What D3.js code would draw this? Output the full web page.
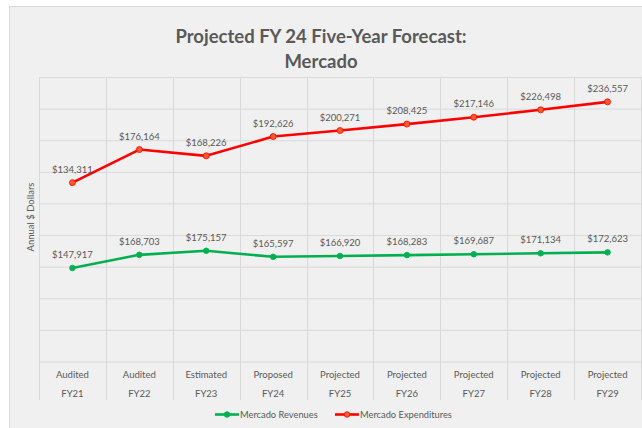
<!DOCTYPE html>
<html>
<head>
<meta charset="utf-8">
<script src="https://cdn.jsdelivr.net/npm/d3@7"></script>
<style>
  html, body { margin: 0; padding: 0; background: #ffffff; }
  svg { display: block; }
  text { font-family: Lato, "Open Sans", sans-serif; }
</style>
</head>
<body>
<svg id="chart" width="642" height="428"></svg>
<script>
// ---- data ----
const statuses = ["Audited", "Audited", "Estimated", "Proposed", "Projected", "Projected", "Projected", "Projected", "Projected"];
const fiscalYears = ["FY21", "FY22", "FY23", "FY24", "FY25", "FY26", "FY27", "FY28", "FY29"];
const revenues = [147917, 168703, 175157, 165597, 166920, 168283, 169687, 171134, 172623];
const expenditures = [134311, 176164, 168226, 192626, 200271, 208425, 217146, 226498, 236557];
const seriesNames = ["Mercado Revenues", "Mercado Expenditures"];
const titleLines = ["Projected FY 24 Five-Year Forecast:", "Mercado"];
const yAxisTitle = "Annual $ Dollars";

// ---- layout ----
const W = 642, H = 428;
const plot = { left: 39, right: 641, top: 77, bottom: 361.5, catBottom: 400 };
const colors = { rev: "#00b050", exp: "#ff0000", expMarker: "#ff5b2a", grid: "#d9d9d9", text: "#595959", bg: "#f0f0f0" };

const svg = d3.select("#chart");

// chart background box
svg.append("rect").attr("x", 9.5).attr("y", 6.5).attr("width", W).attr("height", H)
  .attr("fill", colors.bg).attr("stroke", "#d9d9d9").attr("stroke-width", 1);

const x = d3.scaleBand().domain(fiscalYears).range([plot.left, plot.right]).padding(0);
const yRev = d3.scaleLinear().domain([0, 450000]).range([plot.bottom, plot.top]);
const yExp = d3.scaleLinear().domain([-92000, 268000]).range([plot.bottom, plot.top]);

// horizontal gridlines
const gridY = svg.append("g").attr("transform", `translate(${plot.left},0)`)
  .call(d3.axisLeft(yRev).ticks(9).tickSize(-(plot.right - plot.left)).tickFormat(""));
gridY.select(".domain").remove();
gridY.selectAll("line").attr("stroke", colors.grid).attr("stroke-width", 1);

// vertical gridlines (column boundaries, extending through category labels)
const bounds = fiscalYears.map(d => x(d)).concat([x(fiscalYears[fiscalYears.length - 1]) + x.bandwidth()]);
svg.append("g").selectAll("line").data(bounds).join("line")
  .attr("x1", d => Math.round(d) + 0.5).attr("x2", d => Math.round(d) + 0.5)
  .attr("y1", plot.top).attr("y2", plot.catBottom)
  .attr("stroke", colors.grid).attr("stroke-width", 1);

// category labels (two rows)
const cx = d => x(d) + x.bandwidth() / 2;
svg.append("g").selectAll("text").data(fiscalYears).join("text")
  .attr("x", cx).attr("y", 377.5).attr("text-anchor", "middle")
  .attr("font-size", 9.5).attr("fill", colors.text)
  .text((d, i) => statuses[i]);
svg.append("g").selectAll("text").data(fiscalYears).join("text")
  .attr("x", cx).attr("y", 397).attr("text-anchor", "middle")
  .attr("font-size", 9.5).attr("fill", colors.text)
  .text(d => d);

// title
svg.append("g").selectAll("text").data(titleLines).join("text")
  .attr("x", 321).attr("y", (d, i) => 43 + i * 25)
  .attr("text-anchor", "middle").attr("font-size", 18.5).attr("font-weight", "bold")
  .attr("fill", colors.text).text(d => d);

// y axis title
svg.append("text")
  .attr("transform", `translate(34,217) rotate(-90)`)
  .attr("text-anchor", "middle").attr("font-size", 9.5).attr("fill", colors.text)
  .text(yAxisTitle);

const fmt = d3.format("$,");

function drawSeries(values, yScale, lineColor, markerFill, r) {
  const g = svg.append("g");
  const line = d3.line().x((d, i) => cx(fiscalYears[i])).y(d => yScale(d));
  g.append("path").datum(values).attr("d", line)
    .attr("fill", "none").attr("stroke", lineColor).attr("stroke-width", 2.6)
    .attr("stroke-linejoin", "round");
  g.selectAll("circle").data(values).join("circle")
    .attr("cx", (d, i) => cx(fiscalYears[i])).attr("cy", d => yScale(d)).attr("r", r)
    .attr("fill", markerFill).attr("stroke", lineColor).attr("stroke-width", 0.8);
  g.selectAll("text").data(values).join("text")
    .attr("x", (d, i) => cx(fiscalYears[i])).attr("y", d => yScale(d) - 10)
    .attr("text-anchor", "middle").attr("font-size", 9.5).attr("fill", colors.text)
    .text(d => fmt(d));
}
drawSeries(revenues, yRev, colors.rev, colors.rev, 2.8);
drawSeries(expenditures, yExp, colors.exp, colors.expMarker, 3);

// legend
const legend = [
  { name: seriesNames[0], color: colors.rev, fill: colors.rev, x0: 215 },
  { name: seriesNames[1], color: colors.exp, fill: colors.expMarker, x0: 335 }
];
const lg = svg.append("g").selectAll("g").data(legend).join("g")
  .attr("transform", d => `translate(${d.x0},414.5)`);
lg.append("line").attr("x1", 0).attr("x2", 24).attr("y1", 0).attr("y2", 0)
  .attr("stroke", d => d.color).attr("stroke-width", 2.6);
lg.append("circle").attr("cx", 12).attr("cy", 0).attr("r", 2.8)
  .attr("fill", d => d.fill).attr("stroke", d => d.color).attr("stroke-width", 0.8);
lg.append("text").attr("x", 25).attr("y", 3.2).attr("font-size", 9.3).attr("fill", colors.text)
  .text(d => d.name);
</script>
</body>
</html>
